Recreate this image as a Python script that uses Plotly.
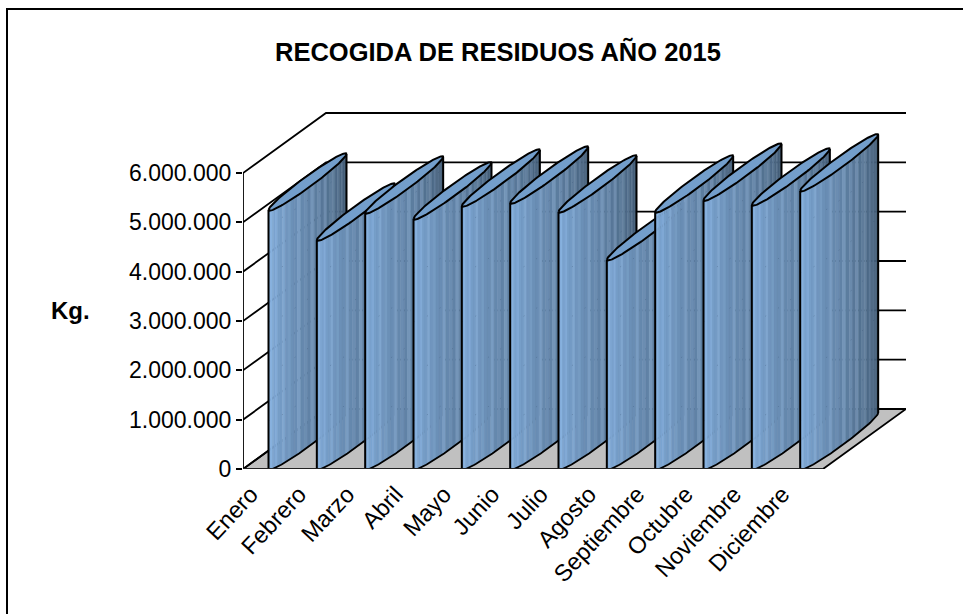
import math
import plotly.graph_objects as go

# ---- data -----------------------------------------------------------------
months = ["Enero", "Febrero", "Marzo", "Abril", "Mayo", "Junio", "Julio", "Agosto",
          "Septiembre", "Octubre", "Noviembre", "Diciembre"]
kilos = [5250000, 4640000, 5190000, 5070000, 5330000, 5390000, 5210000, 4240000,
         5210000, 5450000, 5350000, 5640000]
y_ticks = [0, 1000000, 2000000, 3000000, 4000000, 5000000, 6000000]
y_labels = ["0", "1.000.000", "2.000.000", "3.000.000", "4.000.000", "5.000.000", "6.000.000"]
title = "RECOGIDA DE RESIDUOS AÑO 2015"
y_title = "Kg."

# ---- layout geometry (px) --------------------------------------------------
W, H = 963, 614
X0, Y0 = 243, 469               # origin of the front plane
PX_CAT = 580 / 12               # px per category
PX_VAL = 296 / 6000000          # px per kg
DEPTH_X, DEPTH_Y = 83, 60       # oblique depth of the box
X_RIGHT, Y_TOP = X0 + 580 + DEPTH_X, 112

def ux(px):
    return px / PX_CAT

def uy(px):
    return px / PX_VAL

def paper_x(px):
    return (px - X0) / (X_RIGHT - X0)

def paper_y(py):
    return (Y0 - py) / (Y0 - Y_TOP)

# ---- cylinder shape --------------------------------------------------------
LEFT = 25.5       # px from the category start to the left silhouette
HALF_X = 39       # half length of the elliptical cap, horizontally
HALF_Y = 28       # half rise of the cap
MINOR = 6.5       # half thickness of the cap
N_STRIPS = 36
N_ARC = 72
LIGHT = (136, 180, 228)
DARK = (60, 84, 108)
STREAK = {4: 12, 7: 10, 10: 14, 12: 8, 15: 18, 17: 8, 19: 22, 21: 16, 23: 24, 25: 14,
          26: 20, 28: 16, 30: 14, 32: 10, 34: 8}

def front_arc(cx, base, n=N_ARC):
    """Front half of the ellipse, left tip to right tip."""
    xs, ys = [], []
    for k in range(n + 1):
        t = math.pi - math.pi * k / n
        xs.append(cx + ux(HALF_X) * math.cos(t))
        ys.append(base + uy(HALF_Y) * (1 + math.cos(t)) - uy(MINOR) * math.sin(t))
    return xs, ys

def back_arc(cx, base, n=N_ARC):
    xs, ys = [], []
    for k in range(n + 1):
        t = math.pi * k / n
        xs.append(cx + ux(HALF_X) * math.cos(t))
        ys.append(base + uy(HALF_Y) * (1 + math.cos(t)) + uy(MINOR) * math.sin(t))
    return xs, ys

def strip_colour(i):
    f = i / (N_STRIPS - 1)
    c = [LIGHT[j] + (DARK[j] - LIGHT[j]) * f ** 1.0 for j in range(3)]
    s = STREAK.get(i, 0)
    return "rgb(%d,%d,%d)" % tuple(min(255, int(v + s)) for v in c)

fig = go.Figure()
BLACK = "#000000"

def line(xs, ys, width=1.8, color=BLACK, dash="solid"):
    fig.add_trace(go.Scatter(x=xs, y=ys, mode="lines", hoverinfo="skip", showlegend=False,
                             line=dict(color=color, width=width, dash=dash)))

# floor
dx, dy = ux(DEPTH_X), uy(DEPTH_Y)
n_cat = len(months)
fig.add_trace(go.Scatter(x=[0, n_cat, n_cat + dx, dx, 0], y=[0, 0, dy, dy, 0], mode="lines",
                         fill="toself", fillcolor="#c0c0c0", hoverinfo="skip", showlegend=False,
                         line=dict(color=BLACK, width=1.8)))
# gridlines on side and back walls
for v in y_ticks:
    line([0, dx, n_cat + dx], [v, v + dy, v + dy])
# y axis line
line([0, 0], [0, y_ticks[-1]])

# cylinders, left to right: each one overlaps the previous one
for i, v in enumerate(kilos):
    cx = i + ux(LEFT + HALF_X)
    top_x, top_y = front_arc(cx, v)
    bot_x, bot_y = front_arc(cx, 0)
    # body: vertical strips between the two front arcs
    step = N_ARC // N_STRIPS
    for s in range(N_STRIPS):
        a, b = s * step, (s + 1) * step
        px = top_x[a:b + 1] + bot_x[a:b + 1][::-1]
        py = top_y[a:b + 1] + bot_y[a:b + 1][::-1]
        col = strip_colour(s)
        fig.add_trace(go.Scatter(x=px + px[:1], y=py + py[:1], mode="lines", fill="toself",
                                 fillcolor=col, line=dict(color=col, width=0.6),
                                 hoverinfo="skip", showlegend=False))
    # faint level marks showing through the body
    for level in y_ticks[1:]:
        if level < v:
            gx, gy = front_arc(cx, level)
            line(gx, gy, width=1, color="rgba(40,60,90,0.28)", dash="1px,14px")
    # cap
    bx, by = back_arc(cx, v)
    fig.add_trace(go.Scatter(x=top_x + bx, y=top_y + by, mode="lines", fill="toself",
                             fillcolor="#739ecb", line=dict(color=BLACK, width=2),
                             hoverinfo="skip", showlegend=False))
    # silhouette
    line([top_x[0], bot_x[0]], [top_y[0], bot_y[0]], width=2)
    line([top_x[-1], bot_x[-1]], [top_y[-1], bot_y[-1]], width=2)
    line(bot_x, bot_y)

# front floor edge redraw
line([0, n_cat], [0, 0], width=2, color="#222222")

FONT = "Liberation Sans, Arial, sans-serif"
fig.update_layout(
    width=W, height=H,
    margin=dict(l=X0, r=W - X_RIGHT, t=Y_TOP, b=H - Y0, pad=0),
    paper_bgcolor="white", plot_bgcolor="white", showlegend=False,
    font=dict(family=FONT, color=BLACK),
    xaxis=dict(range=[0, n_cat + dx], tickmode="array",
               tickvals=[i + 0.16 for i in range(n_cat)], ticktext=months, tickangle=-47,
               ticks="", showgrid=False, zeroline=False, showline=False, ticklabelstandoff=6,
               tickfont=dict(size=23.5, family=FONT, color=BLACK)),
    yaxis=dict(range=[0, uy(Y0 - Y_TOP)], tickmode="array", tickvals=y_ticks, ticktext=y_labels,
               ticks="outside", ticklen=6, tickwidth=1.8, tickcolor=BLACK, showgrid=False,
               zeroline=False, showline=False,
               tickfont=dict(size=23, family=FONT, color=BLACK)),
    annotations=[
        dict(text=title, x=paper_x(497.5), y=paper_y(52), xref="paper", yref="paper",
             showarrow=False, xanchor="center", yanchor="middle",
             font=dict(size=25.5, family=FONT, color=BLACK, weight="bold")),
        dict(text=y_title, x=paper_x(71), y=paper_y(310), xref="paper", yref="paper",
             showarrow=False, xanchor="center", yanchor="middle",
             font=dict(size=24, family=FONT, color=BLACK, weight="bold")),
    ],
    shapes=[dict(type="rect", xref="paper", yref="paper", x0=paper_x(7), x1=paper_x(990),
                 y0=paper_y(640), y1=paper_y(9), line=dict(color=BLACK, width=2), layer="below")],
)
fig.write_html("out.html", config=dict(displayModeBar=False),
               post_script="document.body.style.margin='0';")
